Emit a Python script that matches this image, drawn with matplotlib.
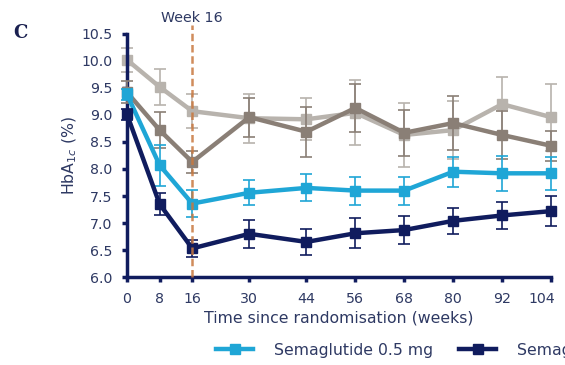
import matplotlib
matplotlib.use("Agg")
import matplotlib.pyplot as plt
import matplotlib.transforms as mtransforms
from matplotlib.lines import Line2D

weeks = [0, 8, 16, 30, 44, 56, 68, 80, 92, 104]
sema05 = [9.38, 8.07, 7.36, 7.56, 7.65, 7.60, 7.60, 7.95, 7.92, 7.92]
sema05_err = [0.10, 0.38, 0.25, 0.23, 0.25, 0.26, 0.26, 0.28, 0.32, 0.30]
sema10 = [9.01, 7.35, 6.53, 6.80, 6.65, 6.81, 6.87, 7.04, 7.14, 7.22]
sema10_err = [0.10, 0.21, 0.15, 0.26, 0.24, 0.28, 0.26, 0.24, 0.25, 0.28]
plac05 = [10.02, 9.52, 9.07, 8.94, 8.92, 9.04, 8.63, 8.72, 9.20, 8.96]
plac05_err = [0.22, 0.34, 0.32, 0.45, 0.39, 0.60, 0.60, 0.54, 0.51, 0.62]
plac10 = [9.42, 8.72, 8.13, 8.96, 8.69, 9.13, 8.67, 8.85, 8.63, 8.43]
plac10_err = [0.20, 0.33, 0.20, 0.36, 0.46, 0.44, 0.43, 0.50, 0.45, 0.28]
yticks = [6.0, 6.5, 7.0, 7.5, 8.0, 8.5, 9.0, 9.5, 10.0, 10.5]
labels = ["Semaglutide 0.5 mg", "Semaglutide 1.0 mg", "Placebo 0.5 mg", "Placebo 1.0 mg"]

NAVY = "#101c5e"
BLUE = "#1fa6d6"
LGRAY = "#b8b3ad"
TAUPE = "#8a7f76"
ORANGE = "#c8783f"
TXT = "#2e3963"

fig = plt.figure(figsize=(5.65, 3.65), dpi=100)
ax = fig.add_axes([0.2248, 0.241, 0.7505, 0.666])

series = [
    (plac05, plac05_err, LGRAY, 2),
    (plac10, plac10_err, TAUPE, 3),
    (sema05, sema05_err, BLUE, 4),
    (sema10, sema10_err, NAVY, 5),
]
for vals, err, col, z in series:
    ax.errorbar(weeks, vals, yerr=err, color=col, lw=3.2, marker="s", ms=7.8,
                ecolor=col, elinewidth=1.2, capsize=4.5, capthick=1.2,
                zorder=z, clip_on=False)

ax.axvline(16, ymin=0, ymax=1.035, color=ORANGE, lw=1.8, ls=(0, (3, 1.5)),
           alpha=0.85, zorder=6, clip_on=False)
ax.text(16, 10.8, "Week 16", ha="center", va="center", fontsize=10.3, color=TXT)

ax.set_xlim(0, 104)
ax.set_ylim(6.0, 10.5)
ax.set_xticks(weeks)
ax.set_xticklabels([str(w) for w in weeks])
ax.set_yticks(yticks)
ax.set_yticklabels([f"{v:.1f}" for v in yticks])
for s in ["top", "right"]:
    ax.spines[s].set_visible(False)
for s in ["left", "bottom"]:
    ax.spines[s].set_color(NAVY)
    ax.spines[s].set_linewidth(2.5)
ax.tick_params(axis="both", direction="out", length=3.5, width=2.5, color=NAVY,
               labelsize=10.2, labelcolor=TXT)
ax.tick_params(axis="y", pad=7)
ax.tick_params(axis="x", pad=7.5)
# the last x label sits a little to the left, as in the reference
last = ax.get_xticklabels()[-1]
last.set_transform(last.get_transform() +
                   mtransforms.ScaledTranslation(-9 / 100, 0, fig.dpi_scale_trans))
ax.set_xlabel("Time since randomisation (weeks)", fontsize=11.3, color=TXT, labelpad=3)
ax.set_ylabel("HbA$_{1c}$ (%)", fontsize=11.3, color=TXT, labelpad=1.5)

fig.text(0.036, 0.91, "C", fontsize=13, fontweight="bold", family="DejaVu Serif",
         color="#1a2050", ha="center", va="center")

handles = [
    Line2D([], [], color=BLUE, lw=3.2, marker="s", ms=7.8),
    Line2D([], [], color=NAVY, lw=3.2, marker="s", ms=7.8),
    Line2D([], [], color=LGRAY, lw=3.2, marker="s", ms=7.8),
    Line2D([], [], color=TAUPE, lw=3.2, marker="s", ms=7.8),
]
fig.legend(handles, labels, ncol=4, loc="center left", bbox_to_anchor=(0.357, 0.04),
           frameon=False, fontsize=11.3, handlelength=2.4, handletextpad=1.3,
           columnspacing=1.65, labelcolor=TXT)

fig.savefig("out.png", dpi=100)
